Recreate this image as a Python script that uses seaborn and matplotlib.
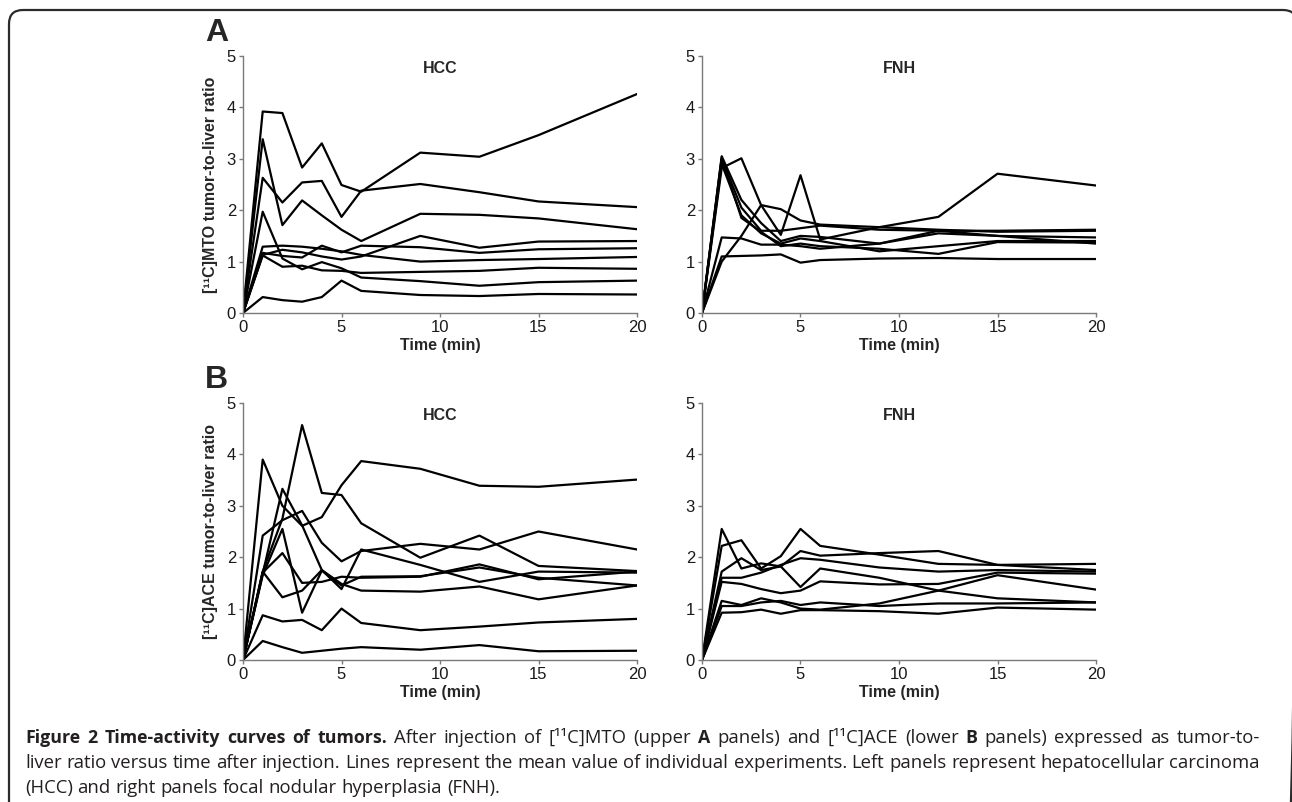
import numpy as np
import pandas as pd
import matplotlib
matplotlib.use('Agg')
import matplotlib.pyplot as plt
from matplotlib.patches import FancyBboxPatch
import seaborn as sns

# time points (min)
time = [0, 1, 2, 3, 4, 5, 6, 9, 12, 15, 20]

# [11C]MTO, HCC
mto_hcc = [
    [0, 3.92, 3.89, 2.83, 3.30, 2.49, 2.36, 3.12, 3.04, 3.46, 4.26],
    [0, 2.63, 2.15, 2.54, 2.57, 1.87, 2.38, 2.51, 2.35, 2.17, 2.06],
    [0, 3.38, 1.71, 2.19, 1.90, 1.62, 1.40, 1.93, 1.91, 1.84, 1.63],
    [0, 1.97, 1.06, 0.85, 0.99, 0.87, 0.69, 0.62, 0.53, 0.60, 0.63],
    [0, 1.29, 1.31, 1.29, 1.25, 1.20, 1.13, 1.00, 1.03, 1.05, 1.09],
    [0, 1.17, 1.11, 1.08, 1.31, 1.18, 1.31, 1.28, 1.17, 1.24, 1.26],
    [0, 1.13, 1.23, 1.18, 1.10, 1.04, 1.10, 1.50, 1.27, 1.39, 1.40],
    [0, 1.12, 0.90, 0.92, 0.83, 0.82, 0.78, 0.80, 0.82, 0.88, 0.86],
    [0, 0.31, 0.25, 0.22, 0.31, 0.63, 0.43, 0.35, 0.33, 0.37, 0.36],
]

# [11C]MTO, FNH
mto_fnh = [
    [0, 2.82, 3.01, 2.10, 1.52, 2.68, 1.43, 1.67, 1.87, 2.71, 2.48],
    [0, 1.00, 1.50, 2.10, 2.02, 1.80, 1.72, 1.67, 1.62, 1.58, 1.60],
    [0, 1.47, 1.45, 1.33, 1.33, 1.30, 1.25, 1.35, 1.55, 1.50, 1.47],
    [0, 1.10, 1.11, 1.12, 1.14, 0.98, 1.03, 1.06, 1.07, 1.05, 1.05],
    [0, 3.05, 2.20, 1.75, 1.40, 1.50, 1.48, 1.35, 1.60, 1.50, 1.35],
    [0, 3.00, 2.05, 1.60, 1.60, 1.65, 1.70, 1.62, 1.60, 1.60, 1.62],
    [0, 2.90, 1.90, 1.55, 1.35, 1.45, 1.40, 1.20, 1.30, 1.40, 1.40],
    [0, 3.02, 1.85, 1.58, 1.30, 1.35, 1.30, 1.25, 1.15, 1.38, 1.37],
]

# [11C]ACE, HCC
ace_hcc = [
    [0, 3.90, 3.00, 2.61, 2.78, 3.40, 3.87, 3.72, 3.39, 3.37, 3.51],
    [0, 2.42, 2.72, 2.90, 2.28, 1.92, 2.12, 2.26, 2.15, 2.50, 2.15],
    [0, 1.72, 2.75, 4.57, 3.25, 3.21, 2.66, 1.99, 2.42, 1.83, 1.73],
    [0, 1.68, 3.33, 2.62, 1.75, 1.38, 2.15, 1.85, 1.52, 1.72, 1.70],
    [0, 1.70, 2.08, 1.50, 1.52, 1.62, 1.60, 1.62, 1.86, 1.57, 1.72],
    [0, 1.72, 1.22, 1.35, 1.75, 1.48, 1.35, 1.33, 1.43, 1.18, 1.45],
    [0, 1.65, 2.55, 0.92, 1.74, 1.45, 1.62, 1.63, 1.80, 1.60, 1.45],
    [0, 0.87, 0.75, 0.78, 0.58, 1.00, 0.72, 0.58, 0.65, 0.73, 0.80],
    [0, 0.37, 0.25, 0.14, 0.18, 0.22, 0.25, 0.20, 0.29, 0.17, 0.18],
]

# [11C]ACE, FNH
ace_fnh = [
    [0, 2.55, 1.78, 1.88, 1.82, 1.42, 1.78, 1.60, 1.35, 1.20, 1.12],
    [0, 2.22, 2.33, 1.78, 2.02, 2.55, 2.22, 2.05, 1.87, 1.85, 1.87],
    [0, 1.72, 1.98, 1.75, 1.82, 2.12, 2.03, 2.08, 2.12, 1.85, 1.75],
    [0, 1.60, 1.60, 1.70, 1.85, 1.98, 1.95, 1.80, 1.72, 1.75, 1.72],
    [0, 1.52, 1.48, 1.38, 1.30, 1.35, 1.53, 1.47, 1.48, 1.70, 1.68],
    [0, 1.15, 1.07, 1.20, 1.12, 1.00, 0.98, 1.10, 1.35, 1.65, 1.37],
    [0, 1.05, 1.05, 1.12, 1.15, 1.07, 1.12, 1.05, 1.10, 1.10, 1.12],
    [0, 0.92, 0.93, 0.98, 0.90, 0.97, 0.97, 0.95, 0.90, 1.02, 0.98],
]

ylabels = ['[¹¹C]MTO tumor-to-liver ratio', '[¹¹C]ACE tumor-to-liver ratio']
titles = ['HCC', 'FNH']
letters = ['A', 'B']

sns.set_style('ticks')
plt.rcParams['font.family'] = ['Liberation Sans', 'DejaVu Sans']

W, H = 1292, 802
fig = plt.figure(figsize=(W / 100, H / 100), dpi=100)

# background axes in pixel units for frame and caption
bg = fig.add_axes([0, 0, 1, 1])
bg.set_xlim(0, W)
bg.set_ylim(H, 0)
bg.axis('off')
bg.add_patch(FancyBboxPatch((9, 10), 1288, 900, boxstyle='round,pad=0,rounding_size=14',
                            fill=False, ec='#2b2b2b', lw=1.6, clip_on=False))


def to_long(curves):
    rows = []
    for i, c in enumerate(curves):
        for t, v in zip(time, c):
            rows.append({'curve': i, 'time': t, 'ratio': v})
    return pd.DataFrame(rows)


panels = [[mto_hcc, mto_fnh], [ace_hcc, ace_fnh]]
lefts = [243, 702]
tops = [56, 403]
aw, ah = 394, 257

for r in range(2):
    for c in range(2):
        ax = fig.add_axes([lefts[c] / W, (H - tops[r] - ah) / H, aw / W, ah / H])
        df = to_long(panels[r][c])
        sns.lineplot(data=df, x='time', y='ratio', units='curve', estimator=None,
                     color='black', linewidth=1.6, ax=ax, legend=False)
        ax.set_xlim(0, 20)
        ax.set_ylim(0, 5)
        ax.set_xticks([0, 5, 10, 15, 20])
        ax.set_yticks([0, 1, 2, 3, 4, 5])
        sns.despine(ax=ax)
        for s in ['left', 'bottom']:
            ax.spines[s].set_color('#7a7a7a')
            ax.spines[s].set_linewidth(1.0)
        ax.tick_params(length=3, width=1, color='#7a7a7a', labelsize=12, pad=2,
                       labelcolor='#1a1a1a')
        ax.set_xlabel('Time (min)', fontweight='bold', fontsize=11.5, labelpad=2)
        if c == 0:
            ax.set_ylabel(ylabels[r], fontweight='bold', fontsize=11.5, labelpad=6)
        else:
            ax.set_ylabel('')
        ax.text(0.5, 0.95, titles[c], transform=ax.transAxes, ha='center', va='center',
                fontweight='bold', fontsize=11.5)

    bg.text(205, tops[r] - 8, letters[r], fontsize=23, fontweight='bold', ha='left', va='bottom')

# caption: mixed weights, justified lines
renderer = fig.canvas.get_renderer()
cap_font = ['Open Sans', 'DejaVu Sans']
cap_sizes = {'normal': 13.3, 'bold': 12.8}
cap_color = '#231f20'

caption = [
    [('Figure 2 Time-activity curves of tumors.', 'bold'),
     ('After injection of [¹¹C]MTO (upper', 'normal'), ('A', 'bold'),
     ('panels) and [¹¹C]ACE (lower', 'normal'), ('B', 'bold'),
     ('panels) expressed as tumor-to-', 'normal')],
    [('liver ratio versus time after injection. Lines represent the mean value of individual '
      'experiments. Left panels represent hepatocellular carcinoma', 'normal')],
    [('(HCC) and right panels focal nodular hyperplasia (FNH).', 'normal')],
]
baselines = [743, 768, 793]
justify = [True, True, False]
x0, x1 = 25, 1260


def text_width(s, weight):
    t = bg.text(0, 0, s, fontsize=cap_sizes[weight], fontweight=weight, family=cap_font)
    w = t.get_window_extent(renderer).width
    t.remove()
    return w


space = text_width('a a', 'normal') - text_width('aa', 'normal')

for runs, yb, just in zip(caption, baselines, justify):
    words = [(w, weight) for s, weight in runs for w in s.split(' ')]
    widths = [text_width(w, weight) for w, weight in words]
    gap = space
    if just:
        gap = (x1 - x0 - sum(widths)) / (len(words) - 1)
    x = x0
    for (w, weight), wd in zip(words, widths):
        bg.text(x, yb, w, fontsize=cap_sizes[weight], fontweight=weight, family=cap_font,
                ha='left', va='baseline', color=cap_color)
        x += wd + gap

fig.savefig('out.png', dpi=100)
